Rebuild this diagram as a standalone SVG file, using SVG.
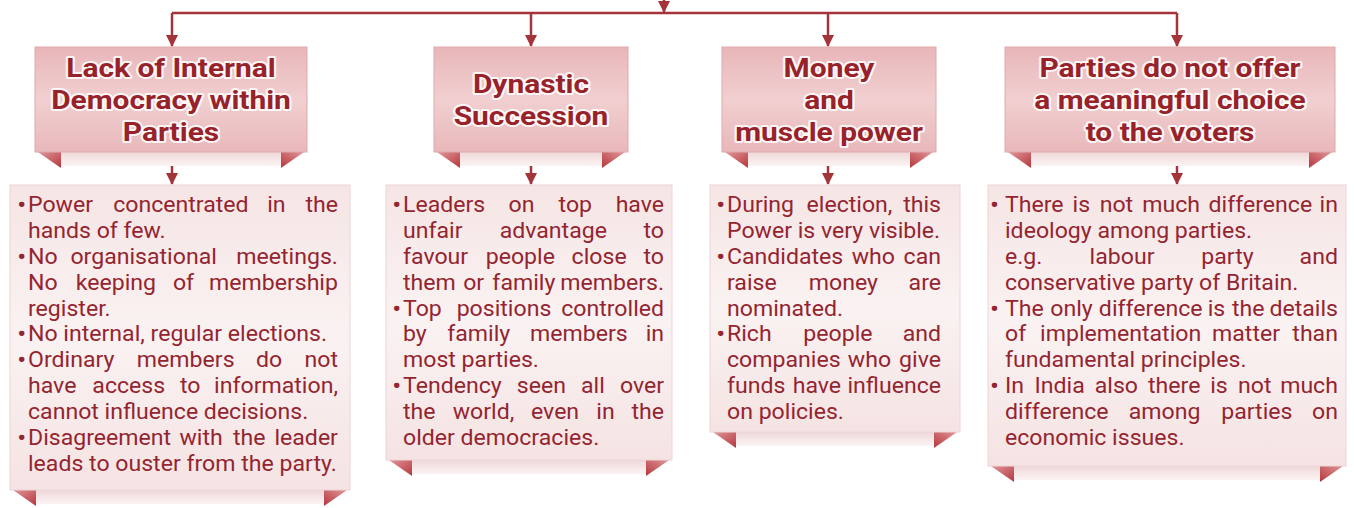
<svg xmlns="http://www.w3.org/2000/svg" width="1354" height="508" viewBox="0 0 1354 508">
  <defs>
    <style>
      .hd { font-family: Roboto, "Liberation Sans", sans-serif; font-weight: 700; font-size: 26px; fill: #982229; text-anchor: middle; stroke: #ffffff; stroke-width: 4px; stroke-linejoin: round; stroke-opacity: 0.85; paint-order: stroke; }
      .bd { font-family: Roboto, "Liberation Sans", sans-serif; font-size: 22px; fill: #942530; }
      .bt { font-weight: 700; }
      .e { text-anchor: end; }
      .panel { fill: url(#panelFill); stroke: #dfa9ac; stroke-width: 1; }
      .card { fill: url(#cardFill); stroke: #ecd6d7; stroke-width: 1; }
      .fold { fill: url(#foldFill); }
      .foldR { fill: url(#foldFillR); }
      .back { fill: url(#backFill); }
      .link { fill: none; stroke: #a5343a; stroke-width: 2.5; }
    </style>
    <linearGradient id="panelFill" x1="0" y1="0" x2="0" y2="1">
      <stop offset="0" stop-color="#e8b6b9"/>
      <stop offset="0.5" stop-color="#f1cfd0"/>
      <stop offset="1" stop-color="#e8b8bb"/>
    </linearGradient>
    <linearGradient id="cardFill" x1="0" y1="0" x2="0" y2="1">
      <stop offset="0" stop-color="#f6e5e5"/>
      <stop offset="0.5" stop-color="#faf2f2"/>
      <stop offset="1" stop-color="#f5e3e3"/>
    </linearGradient>
    <linearGradient id="foldFill" x1="0" y1="0" x2="1" y2="1">
      <stop offset="0" stop-color="#e6a3a6"/>
      <stop offset="1" stop-color="#b5373d"/>
    </linearGradient>
    <linearGradient id="foldFillR" x1="1" y1="0" x2="0" y2="1">
      <stop offset="0" stop-color="#e6a3a6"/>
      <stop offset="1" stop-color="#b5373d"/>
    </linearGradient>
    <linearGradient id="backFill" x1="0" y1="0" x2="0" y2="1">
      <stop offset="0" stop-color="#eed3d4"/>
      <stop offset="1" stop-color="#fbf4f4"/>
    </linearGradient>
    <marker id="arrow" viewBox="0 0 12 12" markerWidth="12" markerHeight="12" refX="11" refY="6" orient="auto" markerUnits="userSpaceOnUse">
      <path d="M0,0 L12,6 L0,12 z" fill="#a5343a"/>
    </marker>
  </defs>

  <rect width="1354" height="508" fill="#ffffff"/>

  <!-- connectors -->
  <g id="connectors">
    <path class="link" d="M664,-20 V12" marker-end="url(#arrow)"/>
    <path class="link" d="M172,13 H1177"/>
    <path class="link" d="M172,13 V46" marker-end="url(#arrow)"/>
    <path class="link" d="M531,13 V46" marker-end="url(#arrow)"/>
    <path class="link" d="M828,13 V46" marker-end="url(#arrow)"/>
    <path class="link" d="M1177,13 V46" marker-end="url(#arrow)"/>
    <path class="link" d="M172,152 V184" marker-end="url(#arrow)"/>
    <path class="link" d="M531,152 V184" marker-end="url(#arrow)"/>
    <path class="link" d="M828,152 V184" marker-end="url(#arrow)"/>
    <path class="link" d="M1177,152 V184" marker-end="url(#arrow)"/>
  </g>

  <!-- heading 1 -->
  <g id="head-internal-democracy">
    <rect class="back" x="61" y="150" width="220" height="16"/>
    <polygon class="fold" points="35,150 61,150 61,168"/>
    <polygon class="foldR" points="281,150 307,150 281,168"/>
    <rect class="panel" x="35" y="47" width="272" height="105"/>
    <g transform="translate(171 0) scale(1.15 1)">
      <text class="hd" x="0" y="77">Lack of Internal</text>
      <text class="hd" x="0" y="109">Democracy within</text>
      <text class="hd" x="0" y="141">Parties</text>
    </g>
  </g>

  <!-- heading 2 -->
  <g id="head-dynastic">
    <rect class="back" x="460" y="150" width="142" height="16"/>
    <polygon class="fold" points="434,150 460,150 460,168"/>
    <polygon class="foldR" points="602,150 628,150 602,168"/>
    <rect class="panel" x="434" y="47" width="194" height="105"/>
    <g transform="translate(531 0) scale(1.15 1)">
      <text class="hd" x="0" y="93">Dynastic</text>
      <text class="hd" x="0" y="125">Succession</text>
    </g>
  </g>

  <!-- heading 3 -->
  <g id="head-money">
    <rect class="back" x="748" y="150" width="162" height="16"/>
    <polygon class="fold" points="722,150 748,150 748,168"/>
    <polygon class="foldR" points="910,150 936,150 910,168"/>
    <rect class="panel" x="722" y="47" width="214" height="105"/>
    <g transform="translate(829 0) scale(1.15 1)">
      <text class="hd" x="0" y="77">Money</text>
      <text class="hd" x="0" y="109">and</text>
      <text class="hd" x="0" y="141">muscle power</text>
    </g>
  </g>

  <!-- heading 4 -->
  <g id="head-choice">
    <rect class="back" x="1031" y="150" width="278" height="16"/>
    <polygon class="fold" points="1005,150 1031,150 1031,168"/>
    <polygon class="foldR" points="1309,150 1335,150 1309,168"/>
    <rect class="panel" x="1005" y="47" width="330" height="105"/>
    <g transform="translate(1170 0) scale(1.15 1)">
      <text class="hd" x="0" y="77">Parties do not offer</text>
      <text class="hd" x="0" y="109">a meaningful choice</text>
      <text class="hd" x="0" y="141">to the voters</text>
    </g>
  </g>

  <!-- card 1 -->
  <g id="card-internal-democracy">
    <rect class="back" x="36" y="488" width="288" height="16"/>
    <polygon class="fold" points="10,488 36,488 36,506"/>
    <polygon class="foldR" points="324,488 350,488 324,506"/>
    <rect class="card" x="10" y="185" width="340" height="305"/>
    <g transform="translate(28 0) scale(1.05 1)">
      <text class="bd" y="212"><tspan class="bt" x="-10">•</tspan><tspan x="0">Power</tspan><tspan x="81.1">concentrated</tspan><tspan x="227.8">in</tspan></text>
      <text class="bd e" x="295.2" y="212">the</text>
      <text class="bd" x="0" y="238">hands of few.</text>
      <text class="bd" y="264"><tspan class="bt" x="-10">•</tspan><tspan x="0">No</tspan><tspan x="40.4">organisational</tspan></text>
      <text class="bd e" x="295.2" y="264">meetings.</text>
      <text class="bd" y="290"><tspan x="0">No</tspan><tspan x="45.5">keeping</tspan><tspan x="138">of</tspan></text>
      <text class="bd e" x="295.2" y="290">membership</text>
      <text class="bd" x="0" y="316">register.</text>
      <text class="bd" y="341.5"><tspan class="bt" x="-10">•</tspan><tspan x="0">No internal, regular elections.</tspan></text>
      <text class="bd" y="367"><tspan class="bt" x="-10">•</tspan><tspan x="0">Ordinary</tspan><tspan x="103.7">members</tspan><tspan x="217.1">do</tspan></text>
      <text class="bd e" x="295.2" y="367">not</text>
      <text class="bd" y="393"><tspan x="0">have</tspan><tspan x="61.3">access</tspan><tspan x="144.8">to</tspan></text>
      <text class="bd e" x="295.2" y="393">information,</text>
      <text class="bd" x="0" y="419">cannot influence decisions.</text>
      <text class="bd" y="445"><tspan class="bt" x="-10">•</tspan><tspan x="0">Disagreement</tspan><tspan x="144.3">with</tspan><tspan x="195.2">the</tspan></text>
      <text class="bd e" x="295.2" y="445">leader</text>
      <text class="bd" x="0" y="471">leads to ouster from the party.</text>
    </g>
  </g>

  <!-- card 2 -->
  <g id="card-dynastic">
    <rect class="back" x="412" y="458" width="234" height="16"/>
    <polygon class="fold" points="386,458 412,458 412,476"/>
    <polygon class="foldR" points="646,458 672,458 646,476"/>
    <rect class="card" x="386" y="185" width="286" height="275"/>
    <g transform="translate(403 0) scale(1.05 1)">
      <text class="bd" y="212"><tspan class="bt" x="-10">•</tspan><tspan x="0">Leaders</tspan><tspan x="100.5">on</tspan><tspan x="148.2">top</tspan></text>
      <text class="bd e" x="248.6" y="212">have</text>
      <text class="bd" y="238"><tspan x="0">unfair</tspan><tspan x="92.1">advantage</tspan></text>
      <text class="bd e" x="248.6" y="238">to</text>
      <text class="bd" y="264"><tspan x="0">favour</tspan><tspan x="78.8">people</tspan><tspan x="160.6">close</tspan></text>
      <text class="bd e" x="248.6" y="264">to</text>
      <text class="bd" y="290"><tspan x="0">them</tspan><tspan x="57.3">or</tspan><tspan x="85.1">family</tspan></text>
      <text class="bd e" x="248.6" y="290">members.</text>
      <text class="bd" y="316"><tspan class="bt" x="-10">•</tspan><tspan x="0">Top</tspan><tspan x="51.1">positions</tspan></text>
      <text class="bd e" x="248.6" y="316">controlled</text>
      <text class="bd" y="341.5"><tspan x="0">by</tspan><tspan x="42.1">family</tspan><tspan x="120.9">members</tspan></text>
      <text class="bd e" x="248.6" y="341.5">in</text>
      <text class="bd" x="0" y="367">most parties.</text>
      <text class="bd" y="393"><tspan class="bt" x="-10">•</tspan><tspan x="0">Tendency</tspan><tspan x="108.4">seen</tspan><tspan x="169.5">all</tspan></text>
      <text class="bd e" x="248.6" y="393">over</text>
      <text class="bd" y="419"><tspan x="0">the</tspan><tspan x="47.4">world,</tspan><tspan x="121.9">even</tspan><tspan x="184.1">in</tspan></text>
      <text class="bd e" x="248.6" y="419">the</text>
      <text class="bd" x="0" y="445">older democracies.</text>
    </g>
  </g>

  <!-- card 3 -->
  <g id="card-money">
    <rect class="back" x="736" y="430" width="198" height="16"/>
    <polygon class="fold" points="710,430 736,430 736,448"/>
    <polygon class="foldR" points="934,430 960,430 934,448"/>
    <rect class="card" x="710" y="185" width="250" height="247"/>
    <g transform="translate(727 0) scale(1.05 1)">
      <text class="bd" y="212"><tspan class="bt" x="-10">•</tspan><tspan x="0">During</tspan><tspan x="75.8">election,</tspan></text>
      <text class="bd e" x="203.8" y="212">this</text>
      <text class="bd" x="0" y="238">Power is very visible.</text>
      <text class="bd" y="264"><tspan class="bt" x="-10">•</tspan><tspan x="0">Candidates</tspan><tspan x="118.7">who</tspan></text>
      <text class="bd e" x="203.8" y="264">can</text>
      <text class="bd" y="290"><tspan x="0">raise</tspan><tspan x="77.9">money</tspan></text>
      <text class="bd e" x="203.8" y="290">are</text>
      <text class="bd" x="0" y="316">nominated.</text>
      <text class="bd" y="341.5"><tspan class="bt" x="-10">•</tspan><tspan x="0">Rich</tspan><tspan x="72.7">people</tspan></text>
      <text class="bd e" x="203.8" y="341.5">and</text>
      <text class="bd" y="367"><tspan x="0">companies</tspan><tspan x="115.1">who</tspan></text>
      <text class="bd e" x="203.8" y="367">give</text>
      <text class="bd" y="393"><tspan x="0">funds</tspan><tspan x="62.6">have</tspan></text>
      <text class="bd e" x="203.8" y="393">influence</text>
      <text class="bd" x="0" y="419">on policies.</text>
    </g>
  </g>

  <!-- card 4 -->
  <g id="card-choice">
    <rect class="back" x="1014" y="464" width="306" height="16"/>
    <polygon class="fold" points="988,464 1014,464 1014,482"/>
    <polygon class="foldR" points="1320,464 1346,464 1320,482"/>
    <rect class="card" x="988" y="185" width="358" height="281"/>
    <g transform="translate(1005 0) scale(1.05 1)">
      <text class="bd" y="212"><tspan class="bt" x="-14">•</tspan><tspan x="0">There</tspan><tspan x="64.4">is</tspan><tspan x="90.2">not</tspan><tspan x="130.7">much</tspan><tspan x="193.9">difference</tspan></text>
      <text class="bd e" x="317.1" y="212">in</text>
      <text class="bd" x="0" y="238">ideology among parties.</text>
      <text class="bd" y="264"><tspan x="0">e.g.</tspan><tspan x="80.6">labour</tspan><tspan x="186.9">party</tspan></text>
      <text class="bd e" x="317.1" y="264">and</text>
      <text class="bd" x="0" y="290">conservative party of Britain.</text>
      <text class="bd" y="316"><tspan class="bt" x="-14">•</tspan><tspan x="0">The</tspan><tspan x="43.1">only</tspan><tspan x="89.4">difference</tspan><tspan x="193">is</tspan><tspan x="216.1">the</tspan></text>
      <text class="bd e" x="317.1" y="316">details</text>
      <text class="bd" y="341.5"><tspan x="0">of</tspan><tspan x="33.4">implementation</tspan><tspan x="197.2">matter</tspan></text>
      <text class="bd e" x="317.1" y="341.5">than</text>
      <text class="bd" x="0" y="367">fundamental principles.</text>
      <text class="bd" y="393"><tspan class="bt" x="-14">•</tspan><tspan x="0">In</tspan><tspan x="28.1">India</tspan><tspan x="85.5">also</tspan><tspan x="136.2">there</tspan><tspan x="195.4">is</tspan><tspan x="222">not</tspan></text>
      <text class="bd e" x="317.1" y="393">much</text>
      <text class="bd" y="419"><tspan x="0">difference</tspan><tspan x="117.8">among</tspan><tspan x="205.9">parties</tspan></text>
      <text class="bd e" x="317.1" y="419">on</text>
      <text class="bd" x="0" y="445">economic issues.</text>
    </g>
  </g>
</svg>
